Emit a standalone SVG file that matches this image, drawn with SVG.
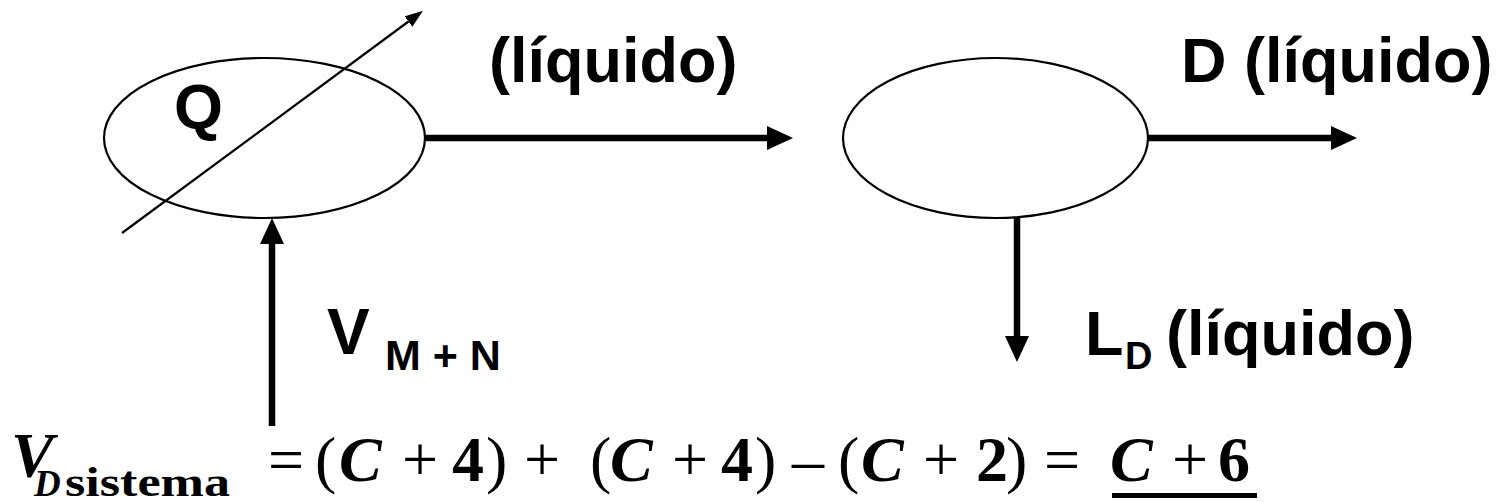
<svg xmlns="http://www.w3.org/2000/svg" width="1504" height="502" viewBox="0 0 1504 502">
<style>
.node{fill:#fff;stroke:#000;stroke-width:2.2}
.thick{stroke:#000;stroke-width:6.5;fill:none}
.thin{stroke:#000;stroke-width:2.2;fill:none}
.lbl{font-family:"Liberation Sans",Arial,sans-serif;font-weight:bold;fill:#000}
.eq{font-family:"Liberation Serif","Times New Roman",serif;fill:#000}
.big{font-size:64px}
.sub{font-size:42px}
.subd{font-size:37px}
.bi{font-weight:bold;font-style:italic}
.b{font-weight:bold}
</style>
<defs>
<marker id="ah" markerUnits="userSpaceOnUse" markerWidth="26" markerHeight="24" viewBox="0 0 26 24" refX="0" refY="12" orient="auto"><path d="M0,0L26,12L0,24z" fill="#000"/></marker>
<marker id="ahs" markerUnits="userSpaceOnUse" markerWidth="18" markerHeight="13" viewBox="0 0 18 13" refX="0" refY="6.5" orient="auto"><path d="M0,0L18,6.5L0,13z" fill="#000"/></marker>
</defs>
<g id="condenser">
<ellipse class="node" cx="264.5" cy="138" rx="160.5" ry="80"/>
<text class="lbl" x="174" y="128" font-size="63">Q</text>
</g>
<g id="drum">
<ellipse class="node" cx="995.5" cy="138" rx="152.5" ry="80"/>
</g>
<g id="connectors">
<line class="thin" x1="122" y1="233" x2="408.5" y2="21.5" marker-end="url(#ahs)"/>
<line class="thick" x1="425" y1="138" x2="767" y2="138" marker-end="url(#ah)"/>
<line class="thick" x1="1148" y1="138" x2="1331" y2="138" marker-end="url(#ah)"/>
<line class="thick" x1="1017" y1="218" x2="1017" y2="336" marker-end="url(#ah)"/>
<line class="thick" x1="272" y1="426" x2="272" y2="244" marker-end="url(#ah)"/>
</g>
<g id="labels">
<text class="lbl" x="489" y="82" font-size="63">(líquido)</text>
<text class="lbl" x="1181" y="82" font-size="63">D (líquido)</text>
<text class="lbl" x="327" y="354" font-size="64">V</text>
<text class="lbl" x="385" y="370" font-size="43">M + N</text>
<text class="lbl" x="1085" y="355" font-size="63">L</text>
<text class="lbl" x="1125" y="369" font-size="38">D</text>
<text class="lbl" x="1166" y="355" font-size="63">(líquido)</text>
</g>
<g id="equation">
<text class="eq bi big" x="11" y="477">V</text>
<text class="eq bi subd" x="34" y="496">D</text>
<text class="eq b sub" x="65" y="496" textLength="165" lengthAdjust="spacingAndGlyphs">sistema</text>
<text class="eq big" y="481"><tspan x="268">=</tspan><tspan x="315">(</tspan><tspan class="bi" x="339">C</tspan><tspan x="402">+</tspan><tspan class="b" x="452">4</tspan><tspan x="486">)</tspan><tspan x="524">+</tspan><tspan x="590">(</tspan><tspan class="bi" x="610">C</tspan><tspan x="672">+</tspan><tspan class="b" x="721">4</tspan><tspan x="755">)</tspan><tspan x="792">–</tspan><tspan x="838">(</tspan><tspan class="bi" x="861">C</tspan><tspan x="923">+</tspan><tspan class="b" x="976">2</tspan><tspan x="1006">)</tspan><tspan x="1044">=</tspan><tspan class="bi" x="1110">C</tspan><tspan x="1172">+</tspan><tspan class="b" x="1218">6</tspan></text>
<rect x="1112" y="493" width="145" height="5" fill="#000"/>
</g>
</svg>
